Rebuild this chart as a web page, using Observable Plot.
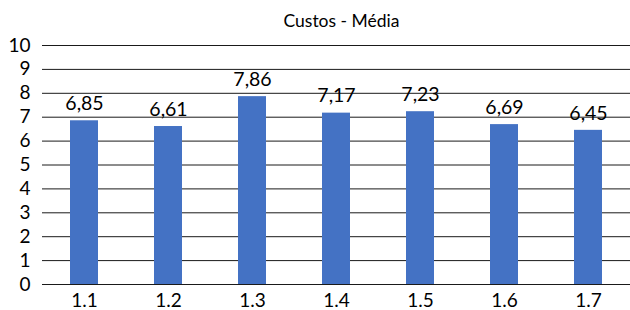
<!DOCTYPE html>
<html>
<head>
<meta charset="utf-8">
<script src="https://cdn.jsdelivr.net/npm/d3@7"></script>
<script src="https://cdn.jsdelivr.net/npm/@observablehq/plot@0.6"></script>
<style>
  html, body { margin: 0; padding: 0; background: #fff; }
  svg { display: block; }
</style>
</head>
<body>
<div id="chart"></div>
<script>
const categories = ["1.1", "1.2", "1.3", "1.4", "1.5", "1.6", "1.7"];
const values = [6.85, 6.61, 7.86, 7.17, 7.23, 6.69, 6.45];
const yTicks = [0, 1, 2, 3, 4, 5, 6, 7, 8, 9, 10];
const title = "Custos - Média";

const data = categories.map((c, i) => ({cat: c, value: values[i]}));
const fmt = v => v.toFixed(2).replace(".", ",");

const chart = Plot.plot({
  width: 630,
  height: 310,
  marginTop: 45,
  marginBottom: 26,
  marginLeft: 42,
  marginRight: 0,
  style: {fontFamily: "Lato, 'Open Sans', sans-serif", fontSize: "19px", color: "#000", background: "#fff"},
  x: {domain: categories, paddingInner: 0.667, paddingOuter: 0.333, label: null, tickSize: 0, tickPadding: 9},
  y: {domain: [0, 10], ticks: yTicks, label: null, tickSize: 0, tickPadding: 12, tickFormat: d => String(d)},
  marks: [
    Plot.ruleY(yTicks, {stroke: "#1a1a1a", strokeWidth: 1}),
    Plot.barY(data, {x: "cat", y: "value", fill: "#4472C4"}),
    Plot.text(data, {x: "cat", y: "value", text: d => fmt(d.value), dy: -17, fill: "#000", fontSize: 19.5}),
    Plot.text([title], {frameAnchor: "top", dx: 5, dy: -31, text: d => d, fill: "#000", fontSize: 17.5})
  ]
});
document.getElementById("chart").appendChild(chart);
</script>
</body>
</html>
